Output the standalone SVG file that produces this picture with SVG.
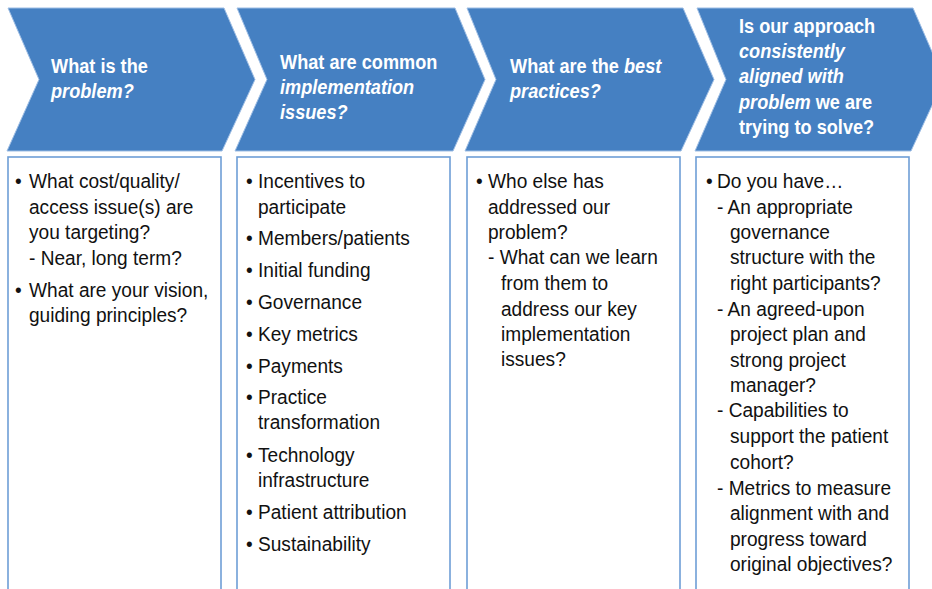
<svg xmlns="http://www.w3.org/2000/svg" width="932" height="589" viewBox="0 0 932 589">
<style>
.chev{fill:#4580C2;stroke:#9DBDE4;stroke-width:1}
.box{fill:#fff;stroke:#6E9ED6;stroke-width:1.6}
.hd{font-family:"Liberation Sans",Arial,sans-serif;font-size:21px;font-weight:bold;fill:#fff}
.it{font-style:italic}
.bd{font-family:"Liberation Sans",Arial,sans-serif;font-size:21px;fill:#111}
</style>
<rect width="932" height="589" fill="#fff"/>
<g id="connectors"/>
<g id="col1">
<polygon class="chev" points="8,8 224,8 255,79.5 222,151 7,151 39,79.5"/>
<g class="hd" transform="translate(51,0) scale(0.865,1)">
<text x="0" y="73">What is the</text>
<text x="0" y="98" class="it">problem?</text>
</g>
<rect class="box" x="8" y="157" width="213" height="450"/>
<g class="bd" transform="translate(29,0) scale(0.91,1)">
<text x="-15.4" y="188">•</text>
<text x="0" y="188">What cost/quality/</text>
<text x="0" y="214">access issue(s) are</text>
<text x="0" y="239">you targeting?</text>
<text x="0" y="265">- Near, long term?</text>
<text x="-15.4" y="297">•</text>
<text x="0" y="297">What are your vision,</text>
<text x="0" y="322">guiding principles?</text>
</g>
</g>
<g id="col2">
<polygon class="chev" points="237,8 455,8 485,79.5 453,151 235,151 267,79.5"/>
<g class="hd" transform="translate(280,0) scale(0.865,1)">
<text x="0" y="69">What are common</text>
<text x="0" y="94" class="it">implementation</text>
<text x="0" y="119" class="it">issues?</text>
</g>
<rect class="box" x="237" y="157" width="213" height="450"/>
<g class="bd" transform="translate(258,0) scale(0.91,1)">
<text x="-13.2" y="188">•</text>
<text x="0" y="188">Incentives to</text>
<text x="0" y="214">participate</text>
<text x="-13.2" y="245">•</text>
<text x="0" y="245">Members/patients</text>
<text x="-13.2" y="277">•</text>
<text x="0" y="277">Initial funding</text>
<text x="-13.2" y="309">•</text>
<text x="0" y="309">Governance</text>
<text x="-13.2" y="341">•</text>
<text x="0" y="341">Key metrics</text>
<text x="-13.2" y="373">•</text>
<text x="0" y="373">Payments</text>
<text x="-13.2" y="404">•</text>
<text x="0" y="404">Practice</text>
<text x="0" y="429">transformation</text>
<text x="-13.2" y="462">•</text>
<text x="0" y="462">Technology</text>
<text x="0" y="487">infrastructure</text>
<text x="-13.2" y="519">•</text>
<text x="0" y="519">Patient attribution</text>
<text x="-13.2" y="551">•</text>
<text x="0" y="551">Sustainability</text>
</g>
</g>
<g id="col3">
<polygon class="chev" points="467,8 683,8 714,79.5 681,151 465,151 496,79.5"/>
<g class="hd" transform="translate(510,0) scale(0.865,1)">
<text x="0" y="73">What are the <tspan class="it">best</tspan></text>
<text x="0" y="98" class="it">practices?</text>
</g>
<rect class="box" x="467" y="157" width="213" height="450"/>
<g class="bd" transform="translate(488,0) scale(0.91,1)">
<text x="-13.2" y="188">•</text>
<text x="0" y="188">Who else has</text>
<text x="0" y="214">addressed our</text>
<text x="0" y="239">problem?</text>
<text x="0" y="264">- What can we learn</text>
<text x="14.3" y="290">from them to</text>
<text x="14.3" y="316">address our key</text>
<text x="14.3" y="341">implementation</text>
<text x="14.3" y="366">issues?</text>
</g>
</g>
<g id="col4">
<polygon class="chev" points="697,8 913,8 944,79.5 911,151 695,151 726,79.5"/>
<g class="hd" transform="translate(739,0) scale(0.865,1)">
<text x="0" y="33">Is our approach</text>
<text x="0" y="58" class="it">consistently</text>
<text x="0" y="83" class="it">aligned with</text>
<text x="0" y="109"><tspan class="it">problem</tspan> we are</text>
<text x="0" y="134">trying to solve?</text>
</g>
<rect class="box" x="696" y="157" width="213" height="450"/>
<g class="bd" transform="translate(717,0) scale(0.91,1)">
<text x="-12.1" y="188">•</text>
<text x="0" y="188">Do you have…</text>
<text x="0" y="214">- An appropriate</text>
<text x="14.3" y="239">governance</text>
<text x="14.3" y="264">structure with the</text>
<text x="14.3" y="290">right participants?</text>
<text x="0" y="316">- An agreed-upon</text>
<text x="14.3" y="341">project plan and</text>
<text x="14.3" y="367">strong project</text>
<text x="14.3" y="392">manager?</text>
<text x="0" y="417">- Capabilities to</text>
<text x="14.3" y="443">support the patient</text>
<text x="14.3" y="469">cohort?</text>
<text x="0" y="495">- Metrics to measure</text>
<text x="14.3" y="520">alignment with and</text>
<text x="14.3" y="546">progress toward</text>
<text x="14.3" y="571">original objectives?</text>
</g>
</g>
</svg>
